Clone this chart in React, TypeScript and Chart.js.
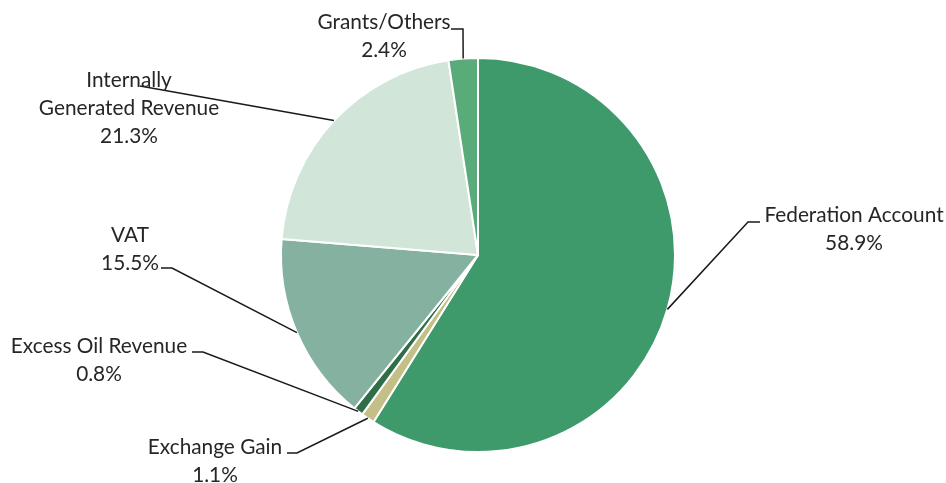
import React, { useEffect, useRef } from "react";
import { Chart, registerables } from "chart.js";

Chart.register(...registerables);

const categories = [
  "Federation Account",
  "Exchange Gain",
  "Excess Oil Revenue",
  "VAT",
  "Internally Generated Revenue",
  "Grants/Others",
];
const shares = [58.9, 1.1, 0.8, 15.5, 21.3, 2.4];
const labelLines = [
  ["Federation Account", "58.9%"],
  ["Exchange Gain", "1.1%"],
  ["Excess Oil Revenue", "0.8%"],
  ["VAT", "15.5%"],
  ["Internally", "Generated Revenue", "21.3%"],
  ["Grants/Others", "2.4%"],
];
const colors = ["#3F9A6B", "#C3BF86", "#2F6E46", "#85B1A1", "#D1E5D8", "#59AB7A"];

// label layout: text centre x, first line y, leader start point, elbow point
const labelLayout = [
  { x: 854, y: 215, sx: 760, sy: 222, ex: 748, ey: 222 },
  { x: 215, y: 447, sx: 287, sy: 453, ex: 297, ey: 453 },
  { x: 99, y: 346, sx: 192, sy: 352, ex: 203, ey: 352 },
  { x: 130, y: 235, sx: 161, sy: 268, ex: 172, ey: 268 },
  { x: 129, y: 80, sx: 140, sy: 86, ex: 140, ey: 86 },
  { x: 384, y: 22, sx: 451, sy: 29, ex: 463, ey: 29 },
];

const labelPlugin = {
  id: "leaderLabels",
  afterDraw(chart: any) {
    const ctx = chart.ctx;
    const meta = chart.getDatasetMeta(0);
    ctx.save();
    meta.data.forEach((arc: any, i: number) => {
      const p = arc.getProps(["x", "y", "startAngle", "endAngle", "outerRadius"], true);
      const mid = (p.startAngle + p.endAngle) / 2;
      const ax = p.x + Math.cos(mid) * p.outerRadius;
      const ay = p.y + Math.sin(mid) * p.outerRadius;
      const L = labelLayout[i];
      ctx.strokeStyle = "#1a1a1a";
      ctx.lineWidth = 1.5;
      ctx.beginPath();
      ctx.moveTo(L.sx, L.sy);
      ctx.lineTo(L.ex, L.ey);
      ctx.lineTo(ax, ay);
      ctx.stroke();
      ctx.fillStyle = "#262626";
      ctx.font = "20.8px Lato, 'Open Sans', sans-serif";
      ctx.textAlign = "center";
      ctx.textBaseline = "middle";
      labelLines[i].forEach((t, k) => {
        ctx.fillText(t, L.x, L.y + k * 28);
      });
    });
    ctx.restore();
  },
};

export default function App() {
  const ref = useRef<HTMLCanvasElement>(null);
  useEffect(() => {
    if (!ref.current) return;
    const chart = new Chart(ref.current, {
      type: "pie",
      data: {
        labels: categories,
        datasets: [
          {
            data: shares,
            backgroundColor: colors,
            borderColor: "#ffffff",
            borderWidth: 2,
          },
        ],
      },
      options: {
        responsive: false,
        animation: false,
        layout: { padding: { left: 280, right: 270, top: 57, bottom: 30 } },
        plugins: {
          legend: { display: false },
          tooltip: { enabled: false },
        },
      },
      plugins: [labelPlugin],
    });
    return () => chart.destroy();
  }, []);
  return (
    <div style={{ position: "absolute", left: 0, top: 0, width: 946, height: 483, background: "#fff" }}>
      <canvas ref={ref} width={946} height={483} style={{ width: 946, height: 483 }} />
    </div>
  );
}
